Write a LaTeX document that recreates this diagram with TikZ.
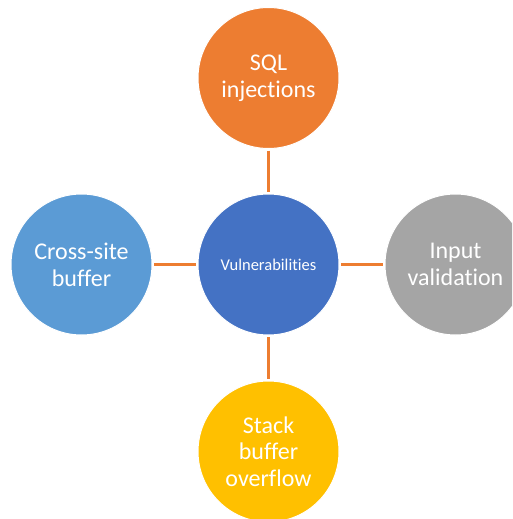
\documentclass[tikz,border=0pt]{standalone}
\usepackage{fontspec}
\setmainfont[Ligatures={NoCommon}]{Carlito}
\definecolor{cOrange}{HTML}{ED7D31}
\definecolor{cBlue}{HTML}{4472C4}
\definecolor{cLightBlue}{HTML}{5B9BD5}
\definecolor{cGray}{HTML}{A5A5A5}
\definecolor{cYellow}{HTML}{FFC000}
\tikzset{
  bubble/.style={circle, draw=white, line width=1pt, minimum size=141pt, inner sep=0pt,
    text=white, align=center, font=\fontsize{24}{26.7}\selectfont},
  hub/.style={bubble, fill=cBlue, font=\fontsize{16.5}{19}\selectfont},
  link/.style={draw=cOrange, line width=2.6pt, shorten <=1.5pt, shorten >=1.5pt}
}
\begin{document}
\begin{tikzpicture}[x=1pt,y=-1pt]
\useasboundingbox (0,0) rectangle (512,519);
\clip (0,0) rectangle (512,519);
\node[hub] (c) at (268.5,264.5) {Vulnerabilities};
\node[bubble, fill=cOrange] (t) at (268.5,78) {SQL\\injections};
\node[bubble, fill=cLightBlue] (l) at (81.5,264.5) {Cross-site\\buffer};
\node[bubble, fill=cGray] (r) at (455.5,264.5) {Input\\validation};
\node[bubble, fill=cYellow] (b) at (268.5,451.5) {Stack\\buffer\\overflow};
\draw[link] (t) -- (c);
\draw[link] (l) -- (c);
\draw[link] (c) -- (r);
\draw[link] (c) -- (b);
\end{tikzpicture}
\end{document}
